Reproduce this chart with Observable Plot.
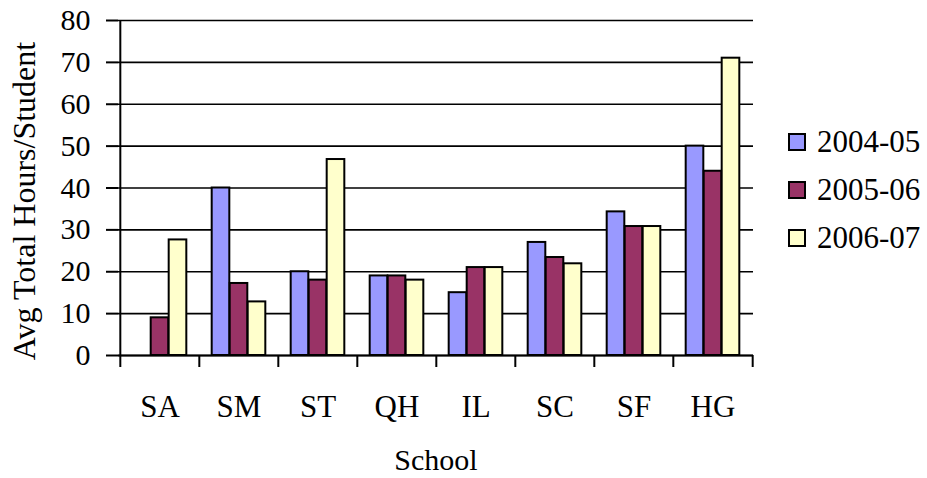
<!DOCTYPE html>
<html>
<head>
<meta charset="utf-8">
<script src="https://cdn.jsdelivr.net/npm/d3@7"></script>
<script src="https://cdn.jsdelivr.net/npm/@observablehq/plot@0.6"></script>
<style>
  body { margin: 0; background: white; }
  #wrap { position: relative; width: 927px; height: 478px; font-family: "Liberation Serif", "Times New Roman", serif; }
  #legend { position: absolute; left: 788px; top: 118px; }
  .item { display: flex; align-items: center; height: 48px; font-size: 31px; color: #000; }
  .swatch { width: 14px; height: 14px; border: 2px solid #000; margin-right: 11px; }
</style>
</head>
<body>
<div id="wrap"></div>
<script>
// Average total hours per student, by school and school year
const schools = ["SA", "SM", "ST", "QH", "IL", "SC", "SF", "HG"];
const years = ["2004-05", "2005-06", "2006-07"];
const hours0405 = [null, 40, 20, 19, 15, 27, 34.3, 50];
const hours0506 = [9, 17.2, 18, 19, 21, 23.4, 30.8, 44];
const hours0607 = [27.6, 12.8, 46.8, 18, 21, 21.9, 30.8, 71];
const yTicks = [0, 10, 20, 30, 40, 50, 60, 70, 80];
const colors = ["#9999FF", "#993366", "#FFFFCC"];

const series = [hours0405, hours0506, hours0607];
const rows = years.flatMap((year, i) =>
  schools.map((school, j) => ({school, year, hours: series[i][j]}))
).filter(d => d.hours != null);

const W = 927, H = 478;
const margin = {left: 118, right: 174, top: 20, bottom: 123};
const step = (W - margin.left - margin.right) / schools.length;
const barW = 18;

// one bar mark per year, offset within each school's band
const bars = years.map((year, i) => {
  const offset = (i - 1) * barW;
  const side = (step - barW) / 2;
  return Plot.barY(rows.filter(d => d.year === year), {
    x: "school", y: "hours", fill: colors[i],
    stroke: "#000", strokeWidth: 2,
    insetLeft: side + offset, insetRight: side - offset
  });
});

const chart = Plot.plot({
  width: W, height: H,
  marginLeft: margin.left, marginRight: margin.right,
  marginTop: margin.top, marginBottom: margin.bottom,
  style: {fontFamily: "Liberation Serif, Times New Roman, serif", fontSize: "30px", background: "white", color: "#000"},
  x: {domain: schools, padding: 0, axis: null},
  y: {domain: [0, 80], axis: null},
  marks: [
    Plot.gridY(yTicks, {stroke: "#000", strokeOpacity: 1, strokeWidth: 1.6}),
    ...bars,
    Plot.ruleY([0], {stroke: "#000", strokeWidth: 2}),
    Plot.ruleX([schools[0]], {x: d => d, dx: -step / 2, stroke: "#000", strokeWidth: 2}),
    Plot.axisY({ticks: yTicks, tickSize: 12, tickPadding: 16, fontSize: 30, label: null, strokeWidth: 2}),
    Plot.axisX({tickSize: 12, tickFormat: () => "", dx: -step / 2, label: null, strokeWidth: 2}),
    Plot.axisX({ticks: [schools[schools.length - 1]], tickSize: 12, tickFormat: () => "", dx: step / 2, label: null, strokeWidth: 2}),
    Plot.text(schools, {x: d => d, frameAnchor: "bottom", lineAnchor: "middle", dy: 52, fontSize: 31}),
    Plot.text(["School"], {frameAnchor: "bottom", lineAnchor: "middle", dy: 105, fontSize: 30}),
    Plot.text(["Avg Total Hours/Student"], {frameAnchor: "left", textAnchor: "middle", lineAnchor: "middle", rotate: -90, dx: -94, dy: 13, fontSize: 32})
  ]
});

const wrap = document.getElementById("wrap");
wrap.appendChild(chart);

const legend = document.createElement("div");
legend.id = "legend";
years.forEach((year, i) => {
  const item = document.createElement("div");
  item.className = "item";
  const sw = document.createElement("span");
  sw.className = "swatch";
  sw.style.background = colors[i];
  item.appendChild(sw);
  item.appendChild(document.createTextNode(year));
  legend.appendChild(item);
});
wrap.appendChild(legend);
</script>
</body>
</html>
